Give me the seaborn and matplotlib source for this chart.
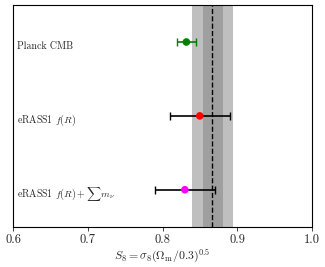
import matplotlib
matplotlib.use("Agg")
import matplotlib.pyplot as plt
import seaborn as sns
import pandas as pd

sns.set_style("ticks")
plt.rcParams['font.family'] = 'serif'
plt.rcParams['font.serif'] = ['cmr10', 'DejaVu Serif']
plt.rcParams['mathtext.fontset'] = 'cm'
plt.rcParams['axes.formatter.use_mathtext'] = True

labels = ["Planck CMB", r"eRASS1 $f(R)$", r"eRASS1 $f(R)+\sum m_\nu$"]
s8 = [0.832, 0.850, 0.830]
err_lo = [0.013, 0.040, 0.040]
err_hi = [0.013, 0.040, 0.040]
marker_colors = ["green", "red", "magenta"]
bar_colors = ["green", "black", "black"]

band_center = 0.867
band_1sig = (0.854, 0.881)
band_2sig = (0.840, 0.894)

df = pd.DataFrame({"label": labels, "s8": s8, "pos": range(len(labels))})

fig = plt.figure(figsize=(3.25, 2.67), dpi=100)
ax = fig.add_axes([0.041, 0.151, 0.918, 0.830])

ax.axvspan(*band_2sig, color="gray", alpha=0.5, lw=0, zorder=0)
ax.axvspan(*band_1sig, color="gray", alpha=0.5, lw=0, zorder=0)
ax.axvline(band_center, color="black", ls="--", lw=1.0, zorder=1)

for i, row in df.iterrows():
    ax.errorbar(row["s8"], row["pos"], xerr=[[err_lo[i]], [err_hi[i]]],
                fmt="none", ecolor=bar_colors[i], elinewidth=1.2,
                capsize=3, capthick=1.0, zorder=2)
sns.scatterplot(data=df, x="s8", y="pos", hue="label",
                palette=dict(zip(labels, marker_colors)), s=30,
                edgecolor="none", legend=False, ax=ax, zorder=3)

for i, lab in enumerate(labels):
    ax.text(0.605, i + 0.06, lab, fontsize=7.1, va="center", ha="left")

ax.set_xlim(0.6, 1.0)
ax.set_ylim(2.5, -0.5)
ax.set_yticks([])
ax.set_ylabel("")
ax.set_xticks([0.6, 0.7, 0.8, 0.9, 1.0])
ax.set_xticklabels(["0.6", "0.7", "0.8", "0.9", "1.0"])
ax.tick_params(axis="x", labelsize=9, length=3, width=0.6, direction="out", pad=2)
ax.set_xlabel(r"$S_8 = \sigma_8(\Omega_{\rm m}/0.3)^{0.5}$", fontsize=8.5, labelpad=1)
for sp in ax.spines.values():
    sp.set_linewidth(0.8)
    sp.set_color("black")

fig.savefig("out.png", dpi=100)
